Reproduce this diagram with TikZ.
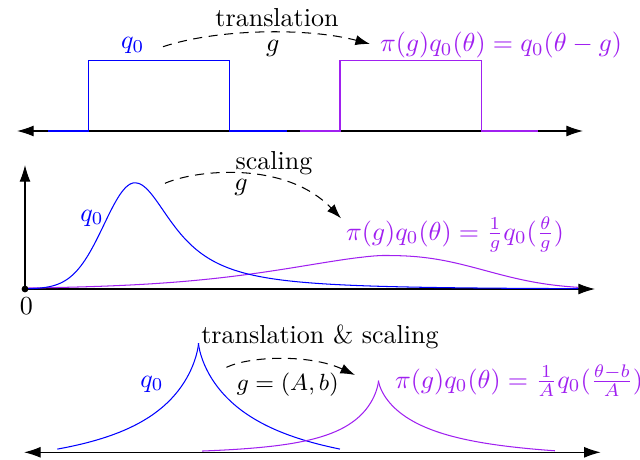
\documentclass[tikz,border=0pt]{standalone}
\usetikzlibrary{arrows.meta}
\definecolor{qpurple}{RGB}{160,32,240}
\begin{document}
\begin{tikzpicture}[x=0.3846pt, y=-0.3846pt,
  txt/.style={inner sep=0pt, outer sep=0pt},
  bl/.style={blue, line width=0.4pt},
  pu/.style={qpurple, line width=0.4pt},
  axisline/.style={black, line width=0.4pt},
  dasharrow/.style={black, line width=0.4pt, dash pattern=on 3.5pt off 2.5pt, -{Latex[length=5.6pt,width=3.9pt]}},
  bothtips/.style={{Latex[length=6.4pt,width=4.2pt]}-{Latex[length=6.4pt,width=4.2pt]}},
  endtip/.style={-{Latex[length=6.4pt,width=4.2pt]}}]
\useasboundingbox (0,0) rectangle (640,459);

% ---------- panel 1: translation ----------
\coordinate (ax1l) at (17,131);
\coordinate (ax1r) at (583,131);
\draw[axisline, bothtips] (ax1l) -- (ax1r);
\draw[bl] (48,131) -- (88.3,131) -- (88.3,60.3) -- (229.4,60.3) -- (229.4,131) -- (287,131);
\draw[pu] (299.5,131) -- (340,131) -- (340,60.3) -- (481.6,60.3) -- (481.6,131) -- (538,131);
\node[txt, anchor=base] (t1) at (277,27) {translation};
\node[txt, anchor=base, blue] (q1) at (132.7,48.5) {$q_0$};
\node[txt, anchor=base] (g1) at (272.7,52) {$g$};
\node[txt, anchor=base west, qpurple] (p1) at (380,52) {$\pi(g)q_0(\theta) = q_0(\theta-g)$};
\coordinate (a1s) at (163,46.7);
\coordinate (a1e) at (370,44);
\draw[dasharrow] (a1s) .. controls (220,28) and (310,28) .. (a1e);

% ---------- panel 2: scaling ----------
\coordinate (o2) at (25,289);
\coordinate (ax2r) at (595,289);
\coordinate (ax2t) at (25,165);
\draw[axisline, endtip] (o2) -- (ax2r);
\draw[axisline, endtip] (o2) -- (ax2t);
\draw[pu] plot[domain=25:382.5, samples=90, smooth] (\x, {289 - 33.5*exp(-((383-\x)/153)^1.5)})
  -- plot[domain=383.5:578, samples=60, smooth] (\x, {289 - 33.5*exp(-((\x-383)/125.7)^2.5)});
\draw[bl] plot[domain=25:135, samples=60, smooth] (\x, {289 - 106.2*exp(-((\x-135)*(\x-135))/1922)})
  -- plot[domain=135:578, samples=120, smooth] (\x, {289 - 106.2*exp(-((\x-135)/400)*((\x-135)/400))/(1+((\x-135)/48)*((\x-135)/48))});
\fill[black] (o2) circle[radius=1.3pt];
\node[txt, anchor=base] (zero) at (26.5,314) {$0$};
\node[txt, anchor=base] (t2) at (274,169) {scaling};
\node[txt, anchor=base] (g2) at (241,190) {$g$};
\node[txt, anchor=base, blue] (q2) at (92,221) {$q_0$};
\node[txt, anchor=base west, qpurple] (p2) at (346,240) {$\pi(g)q_0(\theta) = \frac{1}{g}q_0(\frac{\theta}{g})$};
\coordinate (a2s) at (165,183.3);
\coordinate (a2e) at (341,218.3);
\draw[dasharrow] (a2s) .. controls (195,170) and (285,160) .. (a2e);

% ---------- panel 3: translation & scaling ----------
\coordinate (ax3l) at (24,452.3);
\coordinate (ax3r) at (600.7,452.3);
\draw[axisline, bothtips] (ax3l) -- (ax3r);
% blue cusp curve
\draw[bl] plot[domain=0.1:11.883, samples=80, smooth, variable=\s] ({198.5-\s*\s}, {452.3 - 109.3*(exp(-0.058*\s^1.4)-0.131)/0.869});
\draw[bl] plot[domain=0.1:11.895, samples=80, smooth, variable=\s] ({198.5+\s*\s}, {452.3 - 109.3*(exp(-0.052*\s^1.4)-0.1646)/0.8354});
% purple cusp curve
\draw[pu] plot[domain=0.1:13.285, samples=80, smooth, variable=\s] ({378.5-\s*\s}, {452.3 - 71.8*(exp(-0.085*\s^1.4)-0.0244)/0.9756});
\draw[pu] plot[domain=0.1:13.285, samples=80, smooth, variable=\s] ({378.5+\s*\s}, {452.3 - 71.8*(exp(-0.062*\s^1.4)-0.079)/0.921});
\node[txt, anchor=base] (t3) at (320,343) {translation \& scaling};
\node[txt, anchor=base, blue] (q3) at (152,387) {$q_0$};
\node[txt, anchor=base west] (g3) at (236.5,390) {\small $g=(A,b)$};
\node[txt, anchor=base west, qpurple] (p3) at (395,388) {$\pi(g)q_0(\theta) = \frac{1}{A}q_0(\frac{\theta-b}{A})$};
\coordinate (a3s) at (226.5,367.3);
\coordinate (a3e) at (355,375);
\draw[dasharrow] (a3s) .. controls (250,356) and (310,354) .. (a3e);
\end{tikzpicture}
\end{document}
